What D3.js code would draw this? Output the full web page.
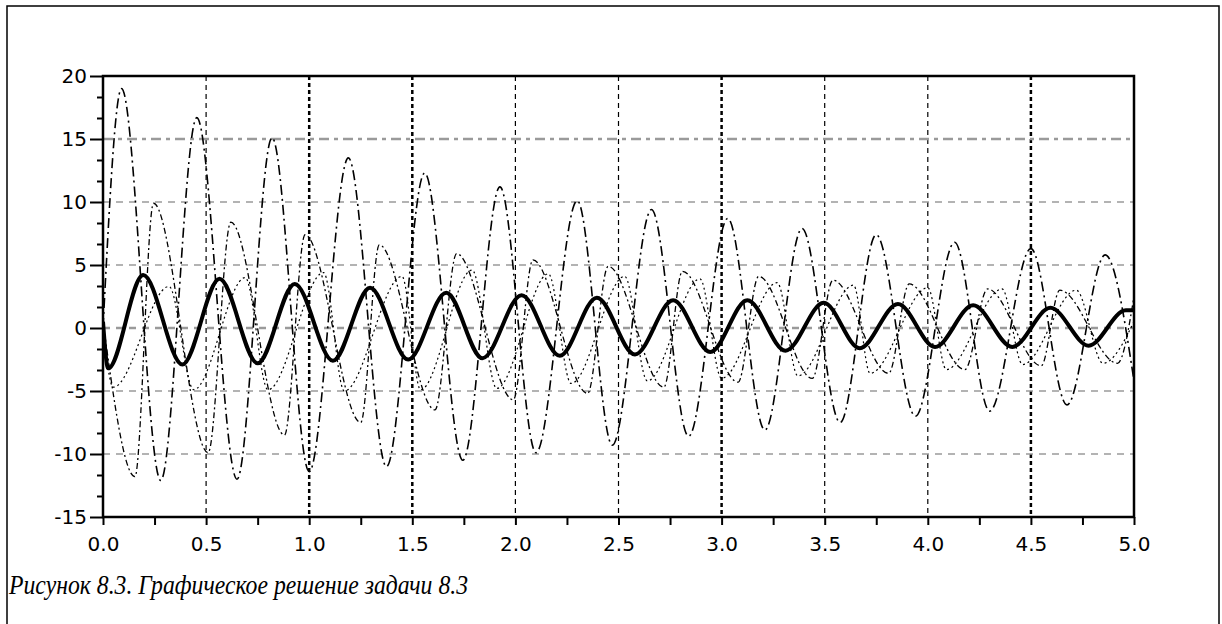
<!DOCTYPE html>
<html>
<head>
<meta charset="utf-8">
<script src="https://cdn.jsdelivr.net/npm/d3@7/dist/d3.min.js"></script>
<style>
  body { margin: 0; background: #fff; }
  svg { display: block; }
  .axis text { font-family: "DejaVu Sans", sans-serif; font-size: 20px; fill: #000; }
  .axis line { stroke: #000; stroke-width: 2; }
  .caption { font-family: "Liberation Serif", "Times New Roman", serif; font-style: italic; font-size: 27px; }
</style>
</head>
<body>
<div class="chart"></div>
<script>
// tick labels
const xMajor = [0, 0.5, 1.0, 1.5, 2.0, 2.5, 3.0, 3.5, 4.0, 4.5, 5.0];
const yMajor = [-15, -10, -5, 0, 5, 10, 15, 20];

// thick solid curve, extrema [t, value]
const solidCurve = [
  [0, 0.5], [0.025, -3.2], [0.195, 4.2], [0.385, -2.9], [0.565, 3.9], [0.75, -2.8],
  [0.93, 3.5], [1.115, -2.6], [1.295, 3.2], [1.48, -2.5], [1.665, 2.8], [1.84, -2.4],
  [2.03, 2.6], [2.215, -2.2], [2.395, 2.4], [2.58, -2.1], [2.765, 2.2], [2.945, -1.9],
  [3.125, 2.2], [3.31, -1.8], [3.495, 2.0], [3.67, -1.6], [3.855, 1.9], [4.035, -1.5],
  [4.22, 1.8], [4.41, -1.5], [4.595, 1.6], [4.78, -1.4], [4.96, 1.4], [5.0, 1.4]
];

// large dash-dot curve
const bigCurve = [
  [0, 0], [0.09, 19.0], [0.28, -12.1], [0.455, 16.7], [0.65, -12.0], [0.82, 15.1],
  [1.0, -11.4], [1.19, 13.5], [1.375, -11.0], [1.56, 12.3], [1.745, -10.5], [1.925, 11.2],
  [2.10, -9.9], [2.30, 10.1], [2.47, -9.3], [2.66, 9.4], [2.84, -8.6], [3.03, 8.7],
  [3.21, -8.1], [3.39, 7.9], [3.575, -7.5], [3.75, 7.4], [3.94, -7.0], [4.13, 6.8],
  [4.30, -6.6], [4.50, 6.3], [4.675, -6.1], [4.86, 5.8], [5.0, -4.2]
];

// medium dash-dot curve
const midCurve = [
  [0, 0.5], [0.155, -11.8], [0.245, 9.9], [0.51, -9.9], [0.62, 8.4], [0.88, -8.5],
  [0.98, 7.4], [1.25, -7.5], [1.34, 6.6], [1.61, -6.5], [1.715, 5.9], [1.99, -5.7],
  [2.085, 5.4], [2.35, -5.2], [2.45, 4.9], [2.72, -4.7], [2.81, 4.5], [3.08, -4.3],
  [3.18, 4.1], [3.44, -4.0], [3.54, 3.8], [3.81, -3.6], [3.91, 3.5], [4.18, -3.3],
  [4.29, 3.1], [4.55, -3.0], [4.64, 3.0], [4.92, -2.8], [5.0, 2.5]
];

// small dotted curve
const smallCurve = [
  [0, 0], [0.05, -4.7], [0.32, 3.3], [0.44, -4.9], [0.69, 4.0], [0.80, -4.9],
  [1.07, 4.4], [1.17, -5.0], [1.45, 4.1], [1.54, -4.9], [1.79, 4.6], [1.91, -4.8],
  [2.16, 4.3], [2.27, -4.4], [2.53, 4.1], [2.64, -4.2], [2.895, 3.9], [3.0, -4.0],
  [3.27, 3.6], [3.37, -3.8], [3.64, 3.4], [3.72, -3.6], [4.0, 3.2], [4.09, -3.3],
  [4.36, 3.1], [4.46, -2.9], [4.72, 3.0], [4.85, -2.8], [5.0, 0.5]
];

const W = 1222, H = 624;
const padL = 103, padR = 1134, padT = 76, padB = 517;

const svg = d3.select(".chart").append("svg")
  .attr("width", W)
  .attr("height", H);

// outer frame
svg.append("rect")
  .attr("x", 7).attr("y", 6)
  .attr("width", 1212).attr("height", 640)
  .attr("fill", "none").attr("stroke", "#000").attr("stroke-width", 1.5);

const x = d3.scaleLinear().domain([0, 5]).range([padL, padR]);
const y = d3.scaleLinear().domain([-15, 20]).range([padB, padT]);

// grid
const boldGrid = [1.0, 1.5, 3.0, 4.5];
svg.append("g").selectAll("line")
  .data(xMajor.slice(1, -1))
  .join("line")
  .attr("x1", d => x(d)).attr("x2", d => x(d))
  .attr("y1", padT).attr("y2", padB)
  .attr("stroke", "#000")
  .attr("stroke-width", d => boldGrid.includes(d) ? 2.5 : 1.2)
  .attr("stroke-dasharray", d => boldGrid.includes(d) ? "4,3" : "5,4");

svg.append("g").selectAll("line")
  .data(yMajor.slice(1, -1))
  .join("line")
  .attr("x1", padL).attr("x2", padR)
  .attr("y1", d => y(d)).attr("y2", d => y(d))
  .attr("stroke", "#9a9a9a")
  .attr("stroke-width", d => (d === 15 || d === 0) ? 2.5 : 1.5)
  .attr("stroke-dasharray", d => d === 15 ? "10,5,4,5" : "7,6");

// curves
svg.append("clipPath").attr("id", "plot")
  .append("rect").attr("x", padL).attr("y", padT)
  .attr("width", padR - padL).attr("height", padB - padT);

const line = d3.line()
  .x(d => x(d[0]))
  .y(d => y(d[1]))
  .curve(d3.curveMonotoneX);

const curves = svg.append("g").attr("clip-path", "url(#plot)");

curves.append("path").datum(smallCurve)
  .attr("d", line).attr("fill", "none")
  .attr("stroke", "#000").attr("stroke-width", 1.2)
  .attr("stroke-dasharray", "2,3");

curves.append("path").datum(midCurve)
  .attr("d", line).attr("fill", "none")
  .attr("stroke", "#000").attr("stroke-width", 1.3)
  .attr("stroke-dasharray", "6,3,2,3");

curves.append("path").datum(bigCurve)
  .attr("d", line).attr("fill", "none")
  .attr("stroke", "#000").attr("stroke-width", 1.6)
  .attr("stroke-dasharray", "10,4,2,4");

curves.append("path").datum(solidCurve)
  .attr("d", line).attr("fill", "none")
  .attr("stroke", "#000").attr("stroke-width", 4)
  .attr("stroke-linejoin", "round");

// axes
const xAxis = svg.append("g").attr("class", "axis")
  .attr("transform", `translate(0,${padB})`)
  .call(d3.axisBottom(x).tickValues(xMajor).tickSize(8).tickPadding(12)
    .tickFormat(d3.format(".1f")));
xAxis.select(".domain").remove();

const xMinor = xMajor.slice(1).map((d, i) => (d + xMajor[i]) / 2);
svg.append("g").attr("class", "axis")
  .attr("transform", `translate(0,${padB})`)
  .call(d3.axisBottom(x).tickValues(xMinor).tickSize(8).tickFormat(""))
  .select(".domain").remove();

const yAxis = svg.append("g").attr("class", "axis")
  .attr("transform", `translate(${padL},0)`)
  .call(d3.axisLeft(y).tickValues(yMajor).tickSize(13).tickPadding(3)
    .tickFormat(d => String(d)));
yAxis.select(".domain").remove();

const yMinor = [];
yMajor.slice(1).forEach((d, i) => {
  const step = (d - yMajor[i]) / 3;
  yMinor.push(yMajor[i] + step, yMajor[i] + 2 * step);
});
svg.append("g").attr("class", "axis")
  .attr("transform", `translate(${padL},0)`)
  .call(d3.axisLeft(y).tickValues(yMinor).tickSize(6).tickFormat(""))
  .select(".domain").remove();

// plot border
svg.append("rect")
  .attr("x", padL).attr("y", padT)
  .attr("width", padR - padL).attr("height", padB - padT)
  .attr("fill", "none").attr("stroke", "#000").attr("stroke-width", 2.5);

svg.append("text")
  .attr("class", "caption")
  .attr("x", 9).attr("y", 594)
  .attr("textLength", 459)
  .attr("lengthAdjust", "spacingAndGlyphs")
  .text("Рисунок 8.3. Графическое решение задачи 8.3");
</script>
</body>
</html>
